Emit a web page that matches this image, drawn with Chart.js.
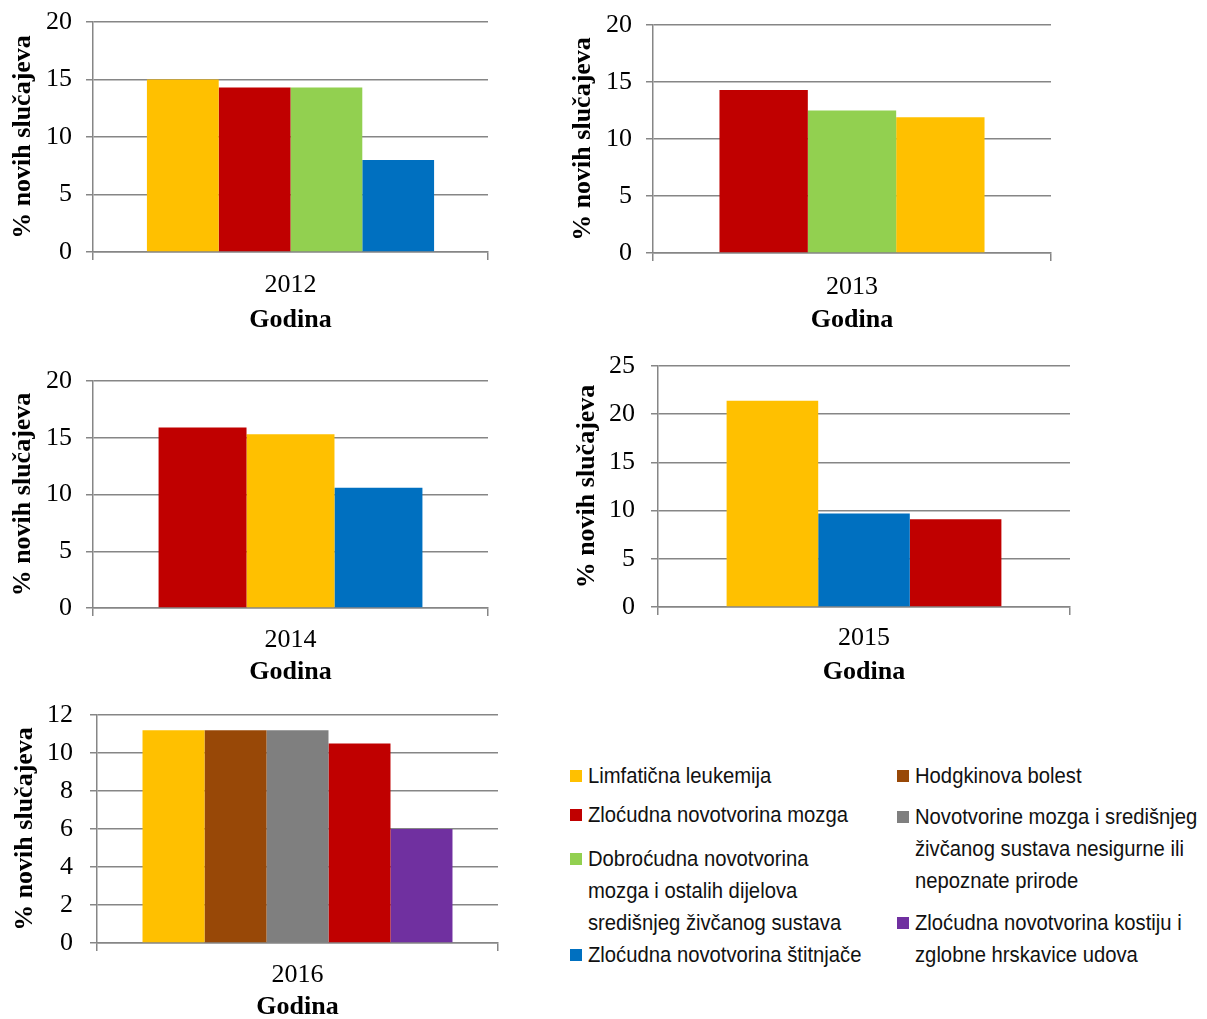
<!DOCTYPE html>
<html lang="hr">
<head>
<meta charset="utf-8">
<title>% novih slučajeva po godinama</title>
<script src="https://cdn.jsdelivr.net/npm/chart.js@4.4.1/dist/chart.umd.min.js"></script>
<style>
  body { margin: 0; background: #fff; }
  #page { position: relative; width: 1207px; height: 1019px; overflow: hidden; }
  #page canvas { position: absolute; }
  .leg { position: absolute; font-family: 'Liberation Sans Narrow', 'Arial Narrow', 'Liberation Sans', sans-serif; font-size: 22px; line-height: 32px; color: #111; white-space: pre; }
  .leg span { display: inline-block; transform: scaleX(0.92); transform-origin: 0 50%; }
  .leg i { position: absolute; width: 12px; height: 12px; left: -18px; top: 10px; }
</style>
</head>
<body>
<div id="page"></div>
<script>
// nazivi bolesti i njihove boje
const seriesNames = [
    'Limfatična leukemija',
    'Zloćudna novotvorina mozga',
    'Dobroćudna novotvorina\nmozga i ostalih dijelova\nsredišnjeg živčanog sustava',
    'Zloćudna novotvorina štitnjače',
    'Hodgkinova bolest',
    'Novotvorine mozga i središnjeg\nživčanog sustava nesigurne ili\nnepoznate prirode',
    'Zloćudna novotvorina kostiju i\nzglobne hrskavice udova'
];
const seriesColors = ['#FFC000', '#C00000', '#92D050', '#0070C0', '#984807', '#7F7F7F', '#7030A0'];

const years = ['2012', '2013', '2014', '2015', '2016'];

// koje bolesti se pojavljuju u kojoj godini (redoslijed stupaca) i vrijednosti u %
const series2012 = [0, 1, 2, 3];
const values2012 = [15.0, 14.3, 14.3, 8.0];
const series2013 = [1, 2, 0];
const values2013 = [14.3, 12.5, 11.9];
const series2014 = [1, 0, 3];
const values2014 = [15.9, 15.3, 10.6];
const series2015 = [0, 3, 1];
const values2015 = [21.4, 9.7, 9.1];
const series2016 = [0, 4, 5, 1, 6];
const values2016 = [11.2, 11.2, 11.2, 10.5, 6.0];

const yMax = [20, 20, 20, 25, 12];
const yStep = [5, 5, 5, 5, 2];

// raspored grafova na stranici
const panels = [
    { l: 93, t: 22, r: 488, b: 252, titleX: 23, lab: 72, yearY: 285, godinaY: 320, pct: 0.727 },
    { l: 653, t: 25, r: 1051, b: 253, titleX: 583, lab: 632, yearY: 287, godinaY: 320, pct: 0.666 },
    { l: 93, t: 381, r: 488, b: 608, titleX: 23, lab: 72, yearY: 640, godinaY: 672, pct: 0.668 },
    { l: 658, t: 366, r: 1070, b: 607, titleX: 587, lab: 635, yearY: 638, godinaY: 672, pct: 0.667 },
    { l: 97, t: 715, r: 498, b: 943, titleX: 25, lab: 73, yearY: 975, godinaY: 1007, pct: 0.773 }
];

const page = document.getElementById('page');
const gridColor = '#868686';
const tickFont = { family: "'Liberation Serif', 'Times New Roman', serif", size: 26 };
const titleFont = { family: "'Liberation Serif', 'Times New Roman', serif", size: 26, weight: 'bold' };
const half = 26 * 1.2 / 2;

const makeChart = (year, order, values, max, step, g) => {
    const cx = g.titleX - 24, cy = g.t - 22;
    const cw = g.r + 12 - cx, ch = g.godinaY + 16 - cy;
    const canvas = document.createElement('canvas');
    canvas.width = cw;
    canvas.height = ch;
    canvas.style.left = cx + 'px';
    canvas.style.top = cy + 'px';
    page.appendChild(canvas);

    return new Chart(canvas, {
        type: 'bar',
        data: {
            labels: [year],
            datasets: order.map((s, k) => ({
                label: seriesNames[s].replace(/\n/g, ' '),
                data: [values[k]],
                backgroundColor: seriesColors[s],
                borderWidth: 0
            }))
        },
        options: {
            responsive: false,
            animation: false,
            layout: { padding: { top: 22, right: 12, bottom: 0, left: 0 } },
            plugins: { legend: { display: false }, tooltip: { enabled: false } },
            datasets: { bar: { barPercentage: 1, categoryPercentage: g.pct } },
            scales: {
                x: {
                    offset: true,
                    grid: { display: true, drawOnChartArea: false, drawTicks: true, tickLength: 8, color: gridColor, lineWidth: 1.5, offset: true },
                    border: { display: true, color: gridColor, width: 1.5 },
                    ticks: { font: tickFont, color: '#000', padding: g.yearY - g.b - 8 - half, maxRotation: 0 },
                    title: { display: true, text: 'Godina', font: titleFont, color: '#000', padding: { top: 0, bottom: 16 - half } },
                    afterFit: (s) => {
                        s.height = cy + ch - g.b;
                        s.paddingLeft = 0;
                        s.paddingRight = 0;
                    }
                },
                y: {
                    min: 0,
                    max: max,
                    grid: { color: gridColor, lineWidth: 1.5, drawTicks: true, tickLength: 7 },
                    border: { display: true, color: gridColor, width: 1.5 },
                    ticks: { stepSize: step, font: tickFont, color: '#000', padding: g.l - 7 - g.lab },
                    title: { display: true, text: '% novih slučajeva', font: titleFont, color: '#000', padding: { top: 24 - half, bottom: 0 } },
                    afterFit: (s) => {
                        s.width = g.l - cx;
                        s.paddingTop = 0;
                        s.paddingBottom = 0;
                    }
                }
            }
        }
    });
};

makeChart(years[0], series2012, values2012, yMax[0], yStep[0], panels[0]);
makeChart(years[1], series2013, values2013, yMax[1], yStep[1], panels[1]);
makeChart(years[2], series2014, values2014, yMax[2], yStep[2], panels[2]);
makeChart(years[3], series2015, values2015, yMax[3], yStep[3], panels[3]);
makeChart(years[4], series2016, values2016, yMax[4], yStep[4], panels[4]);

// zajednička legenda (dva stupca)
const legendItems = [
    { s: 0, x: 588, y: 776 },
    { s: 1, x: 588, y: 815 },
    { s: 2, x: 588, y: 859 },
    { s: 3, x: 588, y: 955 },
    { s: 4, x: 915, y: 776 },
    { s: 5, x: 915, y: 817 },
    { s: 6, x: 915, y: 923 }
];
legendItems.forEach((it) => {
    const div = document.createElement('div');
    div.className = 'leg';
    div.style.left = it.x + 'px';
    div.style.top = (it.y - 16) + 'px';
    const box = document.createElement('i');
    box.style.background = seriesColors[it.s];
    const text = document.createElement('span');
    text.textContent = seriesNames[it.s];
    div.appendChild(box);
    div.appendChild(text);
    page.appendChild(div);
});
</script>
</body>
</html>
